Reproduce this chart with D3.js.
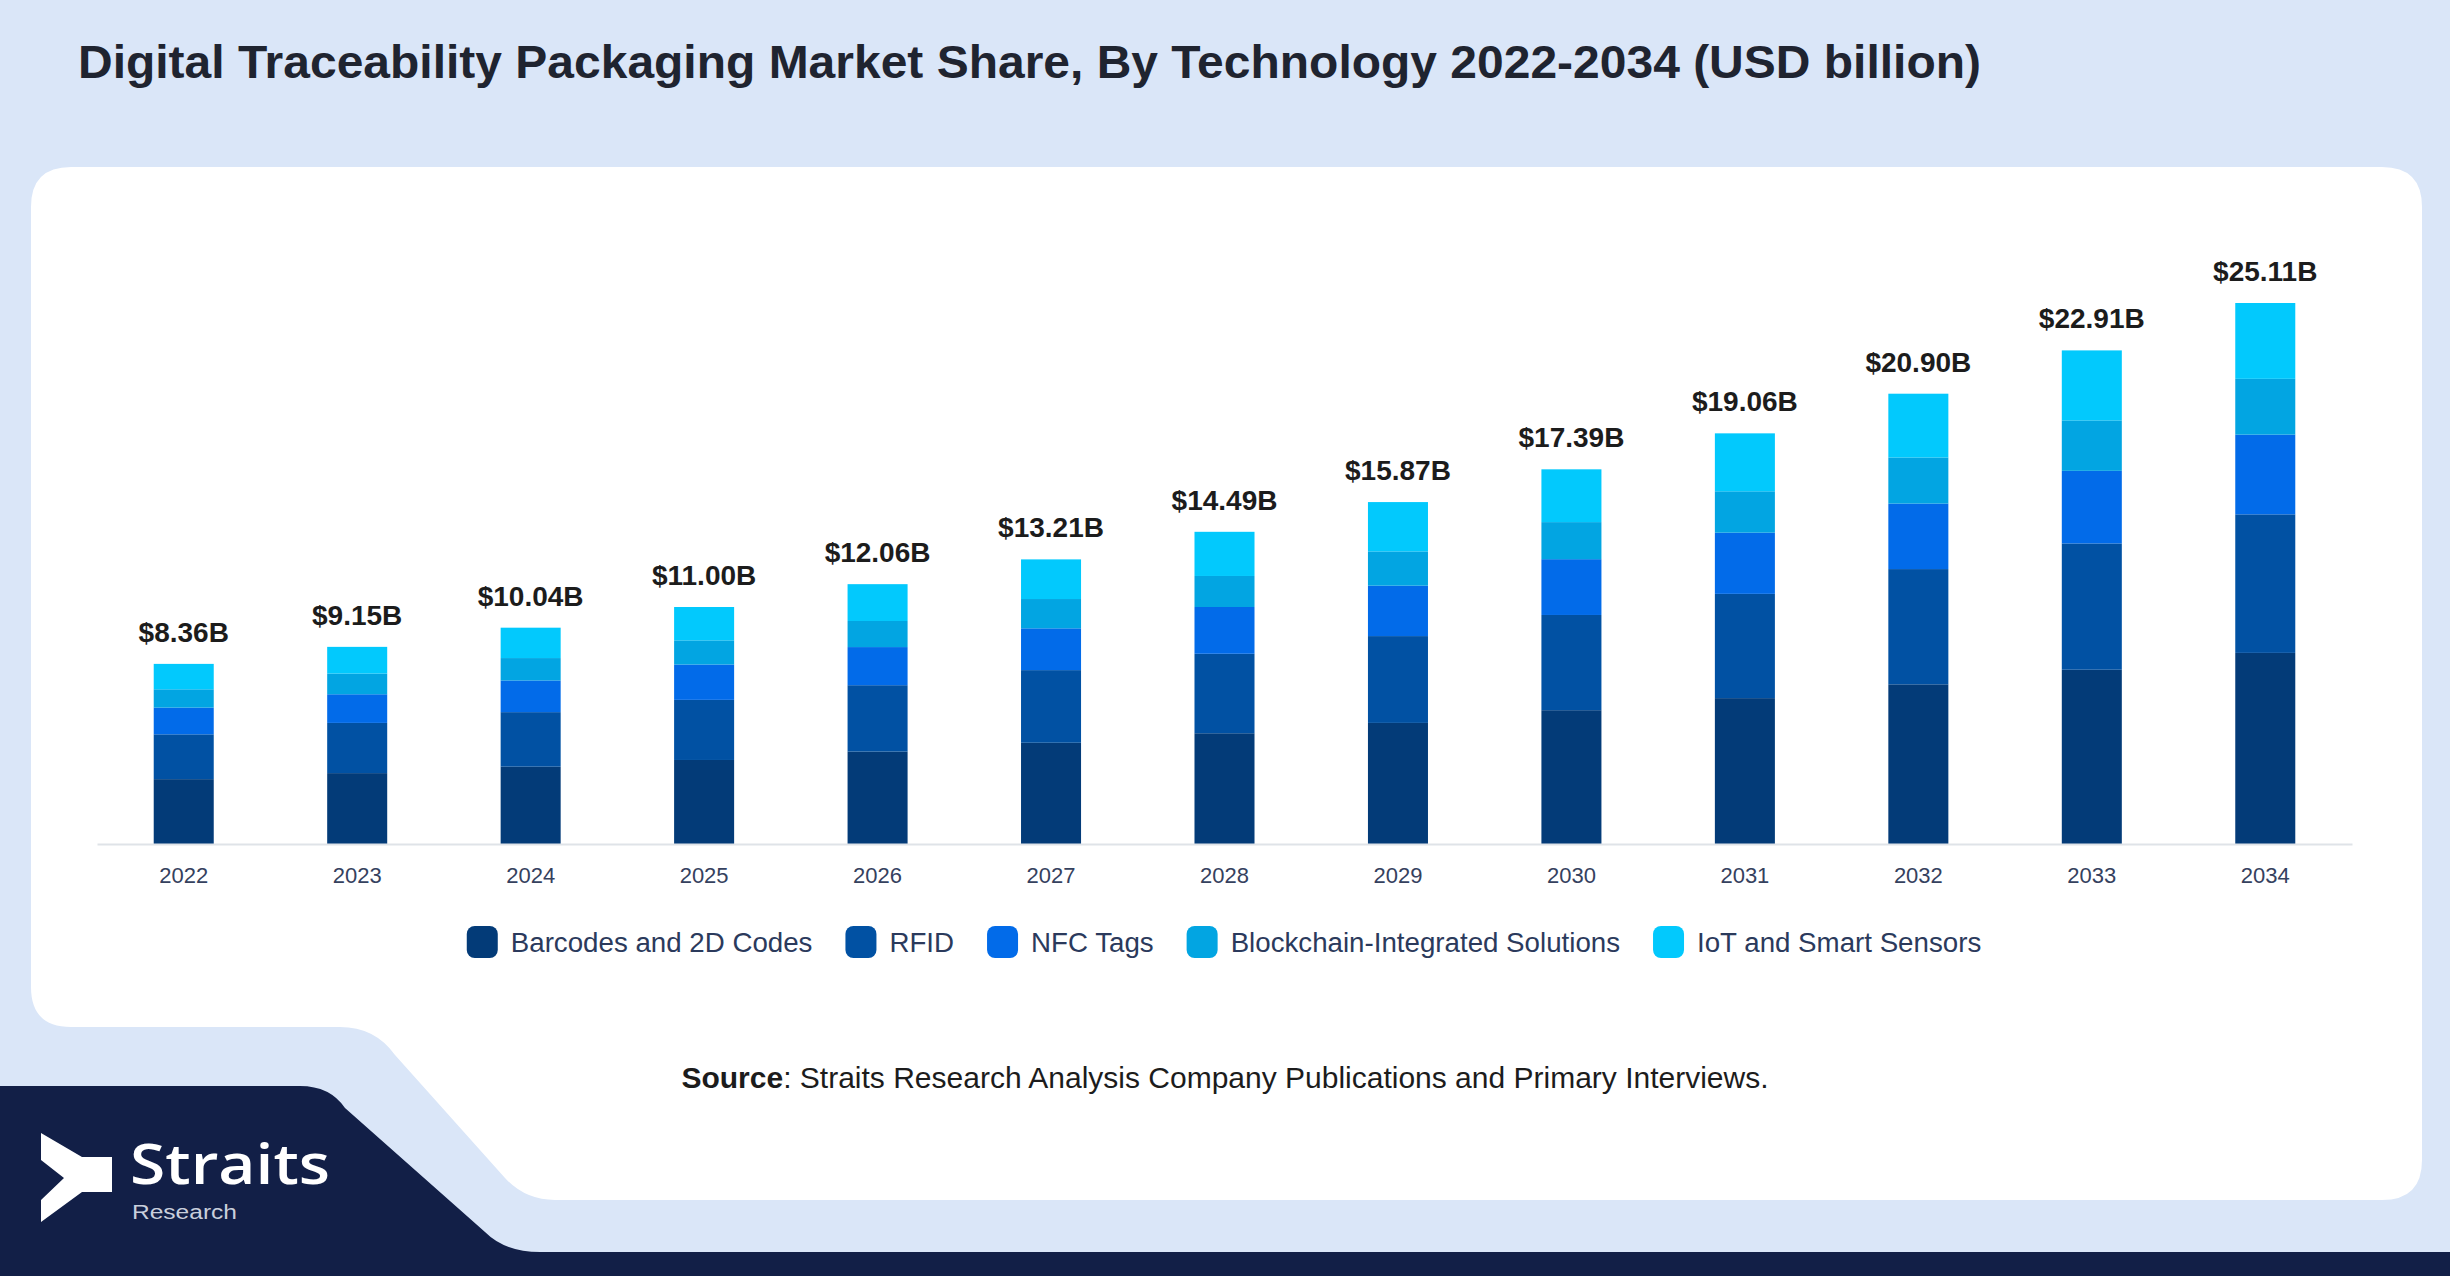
<!DOCTYPE html>
<html>
<head>
<meta charset="utf-8">
<script src="https://cdn.jsdelivr.net/npm/d3@7/dist/d3.min.js"></script>
<style>
  html, body { margin: 0; padding: 0; background: #dae6f8; }
  svg { display: block; }
</style>
</head>
<body>
<script>
// data
var years = ["2022", "2023", "2024", "2025", "2026", "2027", "2028", "2029", "2030", "2031", "2032", "2033", "2034"];
var totals = [8.36, 9.15, 10.04, 11.00, 12.06, 13.21, 14.49, 15.87, 17.39, 19.06, 20.90, 22.91, 25.11];
var seriesNames = ["Barcodes and 2D Codes", "RFID", "NFC Tags", "Blockchain-Integrated Solutions", "IoT and Smart Sensors"];
var barcodes = [3.01, 3.29, 3.59, 3.90, 4.29, 4.70, 5.14, 5.62, 6.21, 6.77, 7.41, 8.09, 8.87];
var rfid = [2.08, 2.33, 2.53, 2.79, 3.08, 3.37, 3.69, 4.03, 4.42, 4.84, 5.35, 5.86, 6.43];
var nfc = [1.24, 1.33, 1.47, 1.64, 1.77, 1.94, 2.17, 2.34, 2.59, 2.84, 3.04, 3.37, 3.70];
var blockchain = [0.85, 0.96, 1.04, 1.12, 1.21, 1.36, 1.44, 1.59, 1.72, 1.92, 2.14, 2.34, 2.59];
var iot = [1.18, 1.24, 1.41, 1.55, 1.71, 1.84, 2.05, 2.29, 2.45, 2.69, 2.96, 3.25, 3.52];
var colors = ["#033b78", "#0151a3", "#026be9", "#02a5e2", "#02c9fd"];

var width = 2450,
	height = 1276,
	baseY = 844,
	topY = 303,
	left = 97,
	right = 2352,
	font = "'Liberation Sans', Arial, sans-serif";

var svg = d3.select("body").append("svg")
	.attr("width", width)
	.attr("height", height);

// background
svg.append("rect")
	.attr("width", width)
	.attr("height", height)
	.attr("fill", "#dae6f8");

// dark footer shape
svg.append("path")
	.attr("fill", "#121f47")
	.attr("d", "M0,1086 L300,1086 Q330,1086 345,1108 L485,1232 Q505,1252 540,1252 L2450,1252 L2450,1276 L0,1276 Z");

// white panel
svg.append("path")
	.attr("fill", "#ffffff")
	.attr("d", "M71,167 L2382,167 Q2422,167 2422,207 L2422,1160 Q2422,1200 2382,1200 L555,1200 Q525,1200 505,1178 L395,1055 Q375,1027 340,1027 L71,1027 Q31,1027 31,987 L31,207 Q31,167 71,167 Z");

// title
svg.append("text")
	.text("Digital Traceability Packaging Market Share, By Technology 2022-2034 (USD billion)")
	.attr("x", 78)
	.attr("y", 78)
	.attr("font-family", font)
	.attr("font-weight", "bold")
	.attr("font-size", "47px")
	.attr("fill", "#1f2430")
	.attr("textLength", 1903)
	.attr("lengthAdjust", "spacingAndGlyphs");

// scales
var x = d3.scaleBand()
	.domain(years)
	.range([left, right])
	.paddingInner(0.654)
	.paddingOuter(0.327);

var y = d3.scaleLinear()
	.domain([0, totals[totals.length - 1]])
	.range([baseY, topY]);

var color = d3.scaleOrdinal()
	.domain(seriesNames)
	.range(colors);

var table = years.map(function (yr, i) {
	return {
		year: yr,
		"Barcodes and 2D Codes": barcodes[i],
		"RFID": rfid[i],
		"NFC Tags": nfc[i],
		"Blockchain-Integrated Solutions": blockchain[i],
		"IoT and Smart Sensors": iot[i]
	};
});

var stacked = d3.stack().keys(seriesNames)(table);

// bars
var layers = svg.append("g").selectAll("g.layer")
	.data(stacked)
	.enter()
	.append("g")
	.attr("class", "layer")
	.attr("fill", function (d) { return color(d.key); });

layers.selectAll("rect")
	.data(function (d) { return d; })
	.enter()
	.append("rect")
	.attr("x", function (d) { return x(d.data.year); })
	.attr("y", function (d) { return y(d[1]); })
	.attr("width", x.bandwidth())
	.attr("height", function (d) { return y(d[0]) - y(d[1]); });

// axis
var axis = svg.append("g")
	.attr("transform", "translate(0," + baseY + ")")
	.call(d3.axisBottom(x).tickSize(0).tickPadding(23));

axis.select(".domain")
	.attr("stroke", "#dfe3e8")
	.attr("stroke-width", 2);

axis.selectAll("text")
	.attr("font-family", font)
	.attr("font-size", "22px")
	.attr("fill", "#35415e");

// total labels
svg.append("g").selectAll("text")
	.data(years)
	.enter()
	.append("text")
	.text(function (d, i) { return "$" + totals[i].toFixed(2) + "B"; })
	.attr("x", function (d) { return x(d) + x.bandwidth() / 2; })
	.attr("y", function (d, i) { return y(totals[i]) - 22; })
	.attr("text-anchor", "middle")
	.attr("font-family", font)
	.attr("font-weight", "bold")
	.attr("font-size", "28px")
	.attr("fill", "#1c1c1c");

// legend
var legend = svg.append("g");
var lx = 0;
seriesNames.forEach(function (name) {
	var item = legend.append("g").attr("transform", "translate(" + lx + ",0)");
	item.append("rect")
		.attr("x", 0)
		.attr("y", -16)
		.attr("width", 31)
		.attr("height", 32)
		.attr("rx", 8)
		.attr("fill", color(name));
	var t = item.append("text")
		.text(name)
		.attr("x", 44)
		.attr("y", 10)
		.attr("font-family", font)
		.attr("font-size", "27.7px")
		.attr("fill", "#2b3a5c");
	lx += 44 + t.node().getComputedTextLength() + 33;
});
lx -= 33;
legend.attr("transform", "translate(" + (1224 - lx / 2) + ",942)");

// source
var src = svg.append("text")
	.attr("x", 1225)
	.attr("y", 1088)
	.attr("text-anchor", "middle")
	.attr("font-family", font)
	.attr("font-size", "30px")
	.attr("fill", "#1c1c1c");
src.append("tspan").attr("font-weight", "bold").text("Source");
src.append("tspan").text(": Straits Research Analysis Company Publications and Primary Interviews.");

// logo
var logo = svg.append("g");
logo.append("path")
	.attr("fill", "#ffffff")
	.attr("d", "M41,1133 L82,1157 L112,1157 L112,1192 L82,1192 L41,1222 L41,1200 L64,1178 L41,1160 Z");
logo.append("text")
	.text("Straits")
	.attr("x", 130)
	.attr("y", 1184)
	.attr("font-family", "'Open Sans', sans-serif")
	.attr("font-weight", 600)
	.attr("font-size", "56px")
	.attr("fill", "#ffffff")
	.attr("textLength", 200)
	.attr("lengthAdjust", "spacingAndGlyphs");
logo.append("text")
	.text("Research")
	.attr("x", 132)
	.attr("y", 1219)
	.attr("font-family", font)
	.attr("font-size", "20px")
	.attr("fill", "#c9cfdc")
	.attr("textLength", 105)
	.attr("lengthAdjust", "spacingAndGlyphs");
</script>
</body>
</html>
